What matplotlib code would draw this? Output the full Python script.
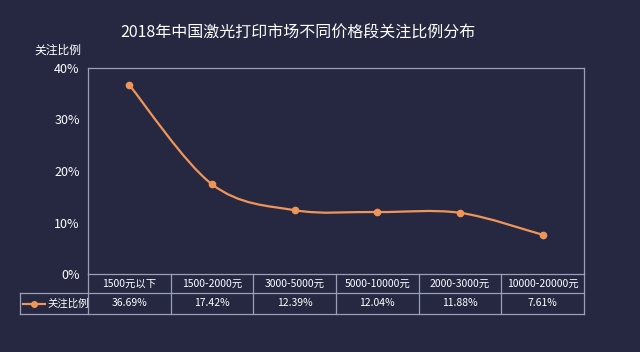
import numpy as np
import matplotlib
matplotlib.use("Agg")
import matplotlib.pyplot as plt
from matplotlib.path import Path
from matplotlib.patches import PathPatch

plt.rcParams['font.family'] = ['Noto Sans CJK SC', 'DejaVu Sans']

categories = ["1500元以下", "1500-2000元", "3000-5000元", "5000-10000元", "2000-3000元", "10000-20000元"]
values = [36.69, 17.42, 12.39, 12.04, 11.88, 7.61]
series_name = "关注比例"
yticks = [0, 10, 20, 30, 40]
title = "2018年中国激光打印市场不同价格段关注比例分布"

bg = "#252840"
line_c = "#f0955a"
grid_c = "#9c9fb8"
txt_c = "#ffffff"

fig = plt.figure(figsize=(6.4, 3.52), dpi=100, facecolor=bg)
W, H = 640, 352
ax = fig.add_axes([88 / W, (H - 274) / H, 496 / W, 206 / H], facecolor=bg)

x = np.arange(len(values))
ax.set_xlim(-0.5, len(values) - 0.5)
ax.set_ylim(0, 40)

# smoothed line (bezier through the points, like Excel's smooth line)
pts = np.column_stack([x, values]).astype(float)
verts = [pts[0]]
codes = [Path.MOVETO]
for i in range(len(pts) - 1):
    p0 = pts[max(i - 1, 0)]
    p1 = pts[i]
    p2 = pts[i + 1]
    p3 = pts[min(i + 2, len(pts) - 1)]
    c1 = p1 + (p2 - p0) / 6
    c2 = p2 - (p3 - p1) / 6
    verts += [c1, c2, p2]
    codes += [Path.CURVE4] * 3
ax.add_patch(PathPatch(Path(verts, codes), fill=False, edgecolor=line_c, lw=1.6))
ax.plot(x, values, "o", color=line_c, ms=4.5, zorder=3)

ax.set_xticks([])
ax.set_yticks(yticks)
ax.set_yticklabels([f"{v}%" for v in yticks], color=txt_c, fontsize=9)
ax.tick_params(axis="y", length=0, pad=6)
for s in ax.spines.values():
    s.set_color(grid_c)
    s.set_linewidth(0.9)

fig.text(81 / W, 1 - 50 / H, series_name, ha="right", va="center",
         color=txt_c, fontsize=8.5)

fig.text(298 / W, 1 - 33 / H, title, ha="center", va="center", color=txt_c, fontsize=11.5)

# data table under the chart
r1 = -19 / 206
r2 = -40 / 206
xl = (20 - 88) / 496
tr = ax.transAxes
kw = dict(transform=tr, color=grid_c, lw=0.9, clip_on=False)
ax.plot([xl, 1], [r1, r1], **kw)
ax.plot([xl, 1], [r2, r2], **kw)
ax.plot([0, 0], [0, r2], **kw)
ax.plot([1, 1], [0, r2], **kw)
ax.plot([xl, xl], [r1, r2], **kw)
n = len(categories)
for i in range(1, n):
    ax.plot([i / n, i / n], [0, r2], **kw)
for i, (c, v) in enumerate(zip(categories, values)):
    cx = (i + 0.5) / n
    ax.text(cx, r1 / 2, c, transform=tr, ha="center", va="center", color=txt_c, fontsize=7.5)
    ax.text(cx, (r1 + r2) / 2, f"{v:.2f}%", transform=tr, ha="center", va="center",
            color=txt_c, fontsize=7.5)

ym = (r1 + r2) / 2
ax.plot([(23 - 88) / 496, (45 - 88) / 496], [ym, ym], transform=tr, color=line_c, lw=1.6,
        clip_on=False)
ax.plot([(34 - 88) / 496], [ym], "o", transform=tr, color=line_c, ms=4, clip_on=False)
ax.text((47 - 88) / 496, ym, series_name, transform=tr, ha="left", va="center",
        color=txt_c, fontsize=7.5)

fig.savefig("out.png", dpi=100, facecolor=bg)
